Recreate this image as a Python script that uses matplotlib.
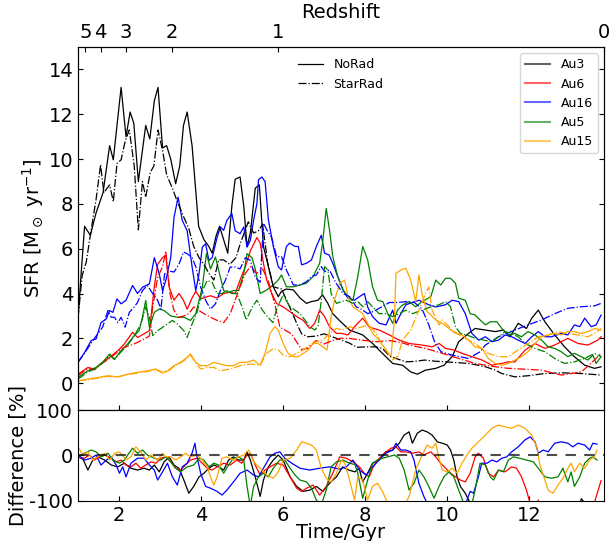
import numpy as np
import matplotlib.pyplot as plt
from matplotlib.lines import Line2D

plt.rcParams['axes.unicode_minus'] = False

# ---- SFR, NoRad (solid) and StarRad (dash-dot) ----
au3_norad_t = [1.0, 1.08, 1.16, 1.3, 1.44, 1.61, 1.77, 1.86, 2.05, 2.17, 2.27, 2.36, 2.47, 2.65, 2.75, 2.86, 2.95, 3.06, 3.16, 3.26, 3.38, 3.48, 3.57, 3.66, 3.78, 3.94, 4.07, 4.19, 4.27, 4.37, 4.45, 4.55, 4.65, 4.75, 4.83, 4.95, 5.04, 5.12, 5.2, 5.32, 5.42, 5.52, 5.64, 5.76, 5.88, 5.96, 6.08, 6.25, 6.41, 6.57, 6.69, 6.85, 6.96, 7.09, 7.21, 7.37, 7.62, 7.94, 8.18, 8.42, 8.67, 8.91, 9.11, 9.27, 9.47, 9.72, 9.92, 10.12, 10.28, 10.52, 10.68, 10.93, 11.17, 11.37, 11.53, 11.73, 11.93, 12.06, 12.22, 12.38, 12.62, 12.86, 13.1, 13.35, 13.59, 13.75]
au3_norad = [2.9, 5.0, 7.0, 6.6, 7.6, 8.5, 10.6, 9.97, 13.2, 11.0, 12.1, 11.6, 9.0, 11.5, 10.9, 12.6, 13.2, 10.5, 10.6, 10.0, 8.9, 9.7, 11.5, 12.1, 10.6, 7.0, 6.4, 6.1, 5.8, 6.6, 7.0, 6.4, 5.8, 7.9, 9.1, 9.2, 7.9, 6.1, 6.7, 8.7, 8.85, 6.1, 5.2, 4.3, 3.86, 4.1, 4.2, 4.16, 3.8, 3.56, 3.64, 3.7, 3.94, 3.56, 3.1, 2.8, 2.37, 2.15, 1.77, 1.33, 0.88, 0.8, 0.5, 0.4, 0.58, 0.66, 0.8, 1.18, 1.85, 2.22, 2.44, 2.37, 2.3, 2.37, 2.07, 2.67, 2.44, 2.9, 3.26, 2.74, 2.15, 1.62, 1.18, 0.8, 0.66, 0.73]

au3_star_t = [1.0, 1.1, 1.2, 1.3, 1.36, 1.44, 1.55, 1.63, 1.77, 1.86, 1.95, 2.05, 2.15, 2.25, 2.37, 2.47, 2.57, 2.65, 2.76, 2.85, 2.95, 3.06, 3.16, 3.3, 3.38, 3.49, 3.58, 3.7, 3.82, 3.95, 4.07, 4.19, 4.31, 4.43, 4.55, 4.7, 4.85, 4.95, 5.05, 5.15, 5.28, 5.4, 5.5, 5.62, 5.76, 5.96, 6.16, 6.33, 6.45, 6.6, 6.8, 7.0, 7.15, 7.38, 7.6, 7.8, 8.02, 8.25, 8.42, 8.6, 8.75, 9.0, 9.2, 9.45, 9.7, 9.96, 10.2, 10.52, 10.75, 10.93, 11.15, 11.33, 11.5, 11.65, 11.97, 12.38, 12.78, 13.27, 13.75]
au3_star = [2.9, 4.8, 5.4, 6.6, 7.3, 8.2, 9.75, 8.5, 8.85, 8.1, 9.8, 9.97, 10.8, 11.3, 9.7, 6.84, 9.0, 8.3, 9.4, 9.7, 11.3, 10.4, 9.3, 8.7, 8.3, 7.8, 7.4, 6.9, 6.1, 5.6, 5.3, 4.9, 4.6, 5.5, 5.5, 5.3, 5.6, 6.2, 6.7, 7.2, 6.7, 6.8, 7.1, 5.4, 4.3, 4.2, 3.4, 2.67, 2.2, 2.07, 2.1, 2.2, 2.1, 1.95, 1.8, 1.6, 1.62, 1.62, 1.55, 1.2, 1.1, 0.95, 0.97, 1.03, 0.98, 0.95, 0.92, 0.88, 0.8, 0.73, 0.6, 0.43, 0.35, 0.28, 0.33, 0.43, 0.46, 0.43, 0.36]

au6_norad_t = [1.0, 1.24, 1.4, 1.6, 1.77, 1.97, 2.13, 2.33, 2.45, 2.61, 2.74, 2.86, 2.94, 3.06, 3.14, 3.22, 3.34, 3.46, 3.57, 3.66, 3.78, 3.87, 3.99, 4.11, 4.23, 4.39, 4.55, 4.71, 4.83, 4.95, 5.08, 5.2, 5.36, 5.44, 5.52, 5.6, 5.72, 5.84, 6.0, 6.16, 6.33, 6.49, 6.65, 6.77, 6.89, 7.01, 7.13, 7.3, 7.42, 7.58, 7.78, 7.94, 8.1, 8.34, 8.59, 8.83, 9.07, 9.39, 9.63, 9.8, 9.96, 10.16, 10.36, 10.6, 10.85, 11.09, 11.33, 11.49, 11.65, 11.9, 12.14, 12.38, 12.62, 12.78, 12.94, 13.19, 13.43, 13.67, 13.75]
au6_norad = [0.4, 0.7, 0.63, 0.93, 1.15, 1.45, 1.75, 2.27, 2.04, 2.2, 2.34, 4.3, 5.3, 5.6, 5.7, 4.3, 3.7, 4.0, 3.7, 3.3, 3.8, 4.1, 3.76, 3.84, 3.9, 3.8, 4.0, 4.06, 4.0, 4.6, 5.2, 5.9, 6.5, 6.25, 5.35, 4.6, 4.0, 3.56, 3.4, 3.2, 2.97, 2.8, 2.44, 2.67, 3.26, 2.97, 2.52, 2.22, 2.22, 2.15, 2.6, 2.9, 2.5, 2.37, 2.15, 1.92, 1.77, 1.7, 1.62, 1.77, 1.55, 1.48, 1.33, 1.18, 1.03, 0.8, 0.88, 0.95, 0.95, 1.48, 1.77, 1.55, 1.7, 1.85, 2.0, 1.77, 1.7, 1.92, 2.07]

au6_star_t = [1.0, 1.24, 1.4, 1.6, 1.77, 1.97, 2.13, 2.37, 2.61, 2.74, 2.82, 2.94, 3.06, 3.14, 3.24, 3.34, 3.46, 3.58, 3.7, 3.82, 3.95, 4.07, 4.23, 4.39, 4.55, 4.71, 4.83, 4.95, 5.08, 5.2, 5.36, 5.5, 5.65, 5.8, 5.92, 6.2, 6.45, 6.6, 6.8, 7.0, 7.2, 7.4, 7.6, 7.8, 8.0, 8.3, 8.6, 8.9, 9.07, 9.47, 9.88, 10.28, 10.68, 11.09, 11.49, 11.9, 12.3, 12.78, 13.27, 13.59, 13.75]
au6_star = [0.33, 0.65, 0.6, 0.9, 1.1, 1.4, 1.6, 1.75, 1.97, 2.1, 3.4, 4.7, 5.2, 5.9, 4.0, 3.24, 2.94, 3.0, 3.1, 3.4, 3.24, 3.1, 2.94, 2.8, 2.7, 3.1, 3.7, 4.3, 4.9, 5.2, 4.9, 5.1, 4.5, 3.5, 2.5, 2.2, 1.5, 1.55, 1.9, 1.75, 1.9, 2.0, 2.0, 1.95, 1.9, 1.85, 1.9, 1.8, 1.7, 1.55, 1.33, 1.1, 0.88, 0.75, 0.66, 0.62, 0.58, 0.36, 0.5, 1.03, 1.33]

au16_norad_t = [1.0, 1.16, 1.32, 1.44, 1.56, 1.69, 1.77, 1.85, 1.95, 2.05, 2.17, 2.33, 2.45, 2.57, 2.74, 2.86, 2.98, 3.06, 3.14, 3.26, 3.34, 3.44, 3.54, 3.66, 3.78, 3.87, 3.95, 4.03, 4.11, 4.19, 4.27, 4.39, 4.47, 4.55, 4.63, 4.75, 4.83, 4.95, 5.04, 5.12, 5.2, 5.28, 5.36, 5.4, 5.48, 5.56, 5.64, 5.76, 5.88, 5.96, 6.08, 6.16, 6.29, 6.37, 6.45, 6.57, 6.69, 6.81, 6.93, 7.01, 7.12, 7.21, 7.33, 7.46, 7.58, 7.74, 7.86, 7.98, 8.06, 8.18, 8.34, 8.51, 8.67, 8.75, 8.87, 8.99, 9.15, 9.31, 9.55, 9.72, 9.96, 10.12, 10.28, 10.44, 10.6, 10.77, 10.93, 11.09, 11.25, 11.41, 11.57, 11.73, 11.9, 12.06, 12.22, 12.38, 12.54, 12.78, 12.94, 13.1, 13.23, 13.35, 13.51, 13.63, 13.75]
au16_norad = [0.93, 1.37, 1.9, 1.97, 2.7, 2.87, 3.24, 3.16, 3.76, 3.54, 3.7, 4.36, 4.0, 4.28, 4.43, 5.6, 4.88, 4.13, 4.58, 5.6, 7.4, 8.3, 7.27, 6.8, 5.2, 4.13, 4.88, 6.07, 6.22, 5.48, 5.6, 6.5, 6.97, 6.82, 7.27, 7.57, 6.8, 6.67, 6.97, 6.07, 6.37, 7.27, 8.0, 9.08, 9.2, 9.0, 7.3, 6.1, 5.2, 5.05, 6.1, 6.25, 6.1, 6.1, 5.28, 5.35, 5.5, 6.1, 6.6, 5.8, 5.72, 5.35, 4.76, 4.16, 3.79, 3.7, 3.86, 4.0, 3.4, 2.97, 2.67, 2.6, 3.26, 2.67, 3.1, 3.5, 3.6, 3.7, 3.5, 3.4, 3.5, 3.7, 3.64, 3.1, 2.22, 1.92, 2.07, 1.85, 1.92, 2.15, 2.07, 1.92, 1.77, 2.07, 2.3, 2.07, 2.07, 2.22, 2.15, 2.6, 2.52, 2.9, 2.52, 2.6, 3.04]

au16_star_t = [1.0, 1.2, 1.36, 1.48, 1.6, 1.73, 1.81, 1.89, 1.97, 2.05, 2.15, 2.25, 2.37, 2.45, 2.57, 2.69, 2.82, 2.94, 3.02, 3.11, 3.22, 3.34, 3.46, 3.57, 3.66, 3.78, 3.87, 3.99, 4.11, 4.23, 4.35, 4.47, 4.59, 4.71, 4.83, 4.95, 5.08, 5.2, 5.32, 5.44, 5.52, 5.6, 5.72, 5.84, 5.96, 6.08, 6.25, 6.41, 6.57, 6.69, 6.81, 6.93, 7.01, 7.13, 7.29, 7.46, 7.62, 7.78, 7.94, 8.06, 8.2, 8.4, 8.59, 8.8, 8.99, 9.2, 9.39, 9.55, 9.7, 9.85, 10.12, 10.52, 10.8, 10.93, 11.25, 11.65, 11.97, 12.3, 12.62, 12.94, 13.27, 13.59, 13.75]
au16_star = [0.93, 1.45, 1.9, 2.2, 2.5, 3.24, 2.94, 2.94, 2.7, 2.94, 2.5, 3.16, 3.4, 3.6, 4.13, 4.36, 4.0, 3.7, 3.3, 4.88, 5.0, 4.96, 5.3, 5.85, 5.78, 5.6, 5.2, 4.28, 3.7, 3.3, 3.54, 4.13, 4.58, 5.18, 5.18, 5.1, 5.6, 5.48, 4.73, 4.5, 7.14, 6.84, 6.5, 5.65, 5.65, 5.05, 4.38, 4.38, 4.53, 4.76, 4.83, 5.2, 4.98, 5.05, 4.46, 4.0, 3.86, 3.41, 3.26, 3.1, 3.2, 3.4, 3.6, 3.6, 3.64, 3.6, 3.3, 2.6, 1.8, 1.4, 1.25, 1.1, 1.4, 1.7, 2.07, 2.37, 2.6, 2.82, 3.1, 3.34, 3.41, 3.45, 3.56]

au5_norad_t = [1.0, 1.24, 1.44, 1.6, 1.77, 1.89, 2.05, 2.21, 2.37, 2.49, 2.57, 2.65, 2.74, 2.86, 2.98, 3.1, 3.26, 3.42, 3.58, 3.74, 3.87, 3.95, 4.03, 4.13, 4.23, 4.35, 4.45, 4.55, 4.67, 4.79, 4.91, 5.04, 5.12, 5.24, 5.32, 5.44, 5.6, 5.76, 5.88, 5.96, 6.08, 6.25, 6.41, 6.57, 6.73, 6.89, 6.97, 7.05, 7.13, 7.21, 7.33, 7.46, 7.58, 7.7, 7.82, 7.94, 8.06, 8.18, 8.3, 8.43, 8.55, 8.67, 8.79, 8.91, 9.07, 9.23, 9.39, 9.6, 9.72, 9.84, 9.96, 10.08, 10.2, 10.28, 10.44, 10.56, 10.68, 10.8, 10.93, 11.05, 11.21, 11.33, 11.49, 11.65, 11.81, 11.97, 12.14, 12.3, 12.46, 12.62, 12.78, 12.94, 13.1, 13.27, 13.43, 13.55, 13.63, 13.75]
au5_norad = [0.25, 0.55, 0.7, 0.93, 1.3, 1.07, 1.45, 1.75, 2.12, 2.34, 2.94, 3.69, 2.49, 3.16, 3.31, 3.24, 3.0, 2.94, 2.94, 2.8, 3.1, 3.69, 4.28, 5.78, 5.1, 5.63, 4.88, 4.13, 4.06, 4.13, 4.13, 4.88, 5.78, 5.6, 5.1, 4.0, 4.16, 4.38, 4.6, 4.83, 4.3, 4.3, 4.38, 4.46, 4.76, 5.35, 6.4, 7.8, 6.84, 5.65, 4.76, 4.16, 3.86, 3.7, 4.76, 6.1, 5.5, 4.3, 3.7, 3.64, 3.1, 2.67, 3.26, 3.49, 3.64, 3.41, 3.64, 3.86, 4.6, 4.38, 4.68, 4.68, 4.46, 3.79, 3.7, 3.1, 3.04, 2.82, 2.6, 2.74, 2.74, 2.44, 2.15, 2.22, 2.07, 2.3, 2.15, 1.92, 1.62, 1.55, 1.4, 1.18, 1.33, 1.18, 1.03, 1.25, 0.88, 1.18]

au5_star_t = [1.0, 1.24, 1.44, 1.6, 1.77, 1.89, 2.05, 2.21, 2.37, 2.53, 2.65, 2.74, 2.82, 2.94, 3.06, 3.18, 3.3, 3.42, 3.58, 3.66, 3.78, 3.9, 4.03, 4.15, 4.27, 4.39, 4.51, 4.63, 4.75, 4.87, 5.0, 5.1, 5.25, 5.36, 5.48, 5.6, 5.75, 5.84, 6.0, 6.16, 6.29, 6.41, 6.53, 6.65, 6.77, 6.85, 6.93, 7.01, 7.09, 7.17, 7.3, 7.42, 7.54, 7.7, 7.82, 7.94, 8.06, 8.18, 8.34, 8.51, 8.67, 8.83, 8.99, 9.15, 9.39, 9.6, 9.8, 9.96, 10.08, 10.2, 10.32, 10.48, 10.68, 10.89, 11.09, 11.25, 11.41, 11.57, 11.73, 11.9, 12.14, 12.38, 12.62, 12.86, 13.1, 13.35, 13.59, 13.75]
au5_star = [0.18, 0.5, 0.65, 0.9, 1.25, 1.05, 1.4, 1.7, 2.1, 2.64, 3.4, 2.94, 2.12, 2.34, 2.49, 2.64, 2.8, 2.64, 2.34, 2.04, 2.64, 3.16, 4.13, 4.58, 4.5, 4.0, 4.0, 4.13, 4.0, 4.0, 3.4, 2.82, 3.4, 3.7, 3.3, 3.0, 2.7, 3.3, 3.94, 3.41, 3.26, 3.1, 2.82, 2.52, 2.37, 2.52, 3.7, 5.2, 5.05, 4.0, 3.56, 3.64, 3.7, 3.56, 3.64, 3.41, 3.64, 3.41, 3.1, 3.1, 2.97, 3.1, 3.26, 3.1, 3.26, 3.4, 3.5, 3.64, 3.41, 2.52, 2.22, 2.15, 2.0, 1.92, 1.85, 2.07, 2.3, 2.22, 2.07, 1.77, 1.55, 1.4, 1.1, 0.88, 0.95, 1.1, 1.33, 1.18]

au15_norad_t = [1.0, 1.24, 1.48, 1.73, 1.97, 2.21, 2.45, 2.69, 2.9, 3.06, 3.18, 3.34, 3.5, 3.66, 3.74, 3.87, 3.99, 4.15, 4.31, 4.47, 4.63, 4.79, 4.95, 5.12, 5.28, 5.44, 5.56, 5.68, 5.8, 5.88, 6.0, 6.12, 6.25, 6.37, 6.49, 6.61, 6.73, 6.85, 6.97, 7.07, 7.17, 7.25, 7.38, 7.5, 7.58, 7.7, 7.82, 7.94, 8.06, 8.18, 8.34, 8.51, 8.63, 8.71, 8.75, 8.87, 8.99, 9.11, 9.23, 9.31, 9.39, 9.51, 9.6, 9.72, 9.88, 10.04, 10.2, 10.36, 10.52, 10.68, 10.85, 11.0, 11.17, 11.33, 11.49, 11.65, 11.81, 11.97, 12.14, 12.3, 12.46, 12.62, 12.78, 12.94, 13.1, 13.27, 13.43, 13.59, 13.75]
au15_norad = [0.1, 0.18, 0.25, 0.33, 0.28, 0.4, 0.48, 0.55, 0.63, 0.48, 0.55, 0.78, 0.93, 1.15, 1.3, 0.93, 0.78, 0.78, 0.93, 0.85, 0.78, 0.78, 0.93, 0.93, 1.03, 0.8, 1.33, 2.22, 2.52, 2.37, 1.77, 1.33, 1.18, 1.18, 1.33, 1.48, 1.77, 1.77, 1.62, 1.48, 2.97, 3.7, 4.46, 4.6, 3.86, 3.41, 3.26, 3.1, 2.67, 2.22, 1.92, 1.48, 1.18, 2.82, 4.9, 5.05, 5.13, 4.6, 3.64, 4.83, 3.94, 3.19, 3.04, 2.82, 2.67, 2.44, 2.22, 2.15, 1.92, 1.62, 1.55, 1.1, 0.88, 0.8, 0.88, 1.03, 1.18, 1.4, 1.77, 2.07, 2.15, 2.22, 2.15, 2.3, 2.3, 2.22, 2.3, 2.44, 2.37]

au15_star_t = [1.0, 1.24, 1.48, 1.73, 1.97, 2.21, 2.45, 2.69, 2.9, 3.06, 3.18, 3.34, 3.5, 3.66, 3.74, 3.87, 3.99, 4.15, 4.31, 4.47, 4.71, 4.95, 5.2, 5.44, 5.6, 5.76, 5.88, 6.0, 6.16, 6.33, 6.49, 6.65, 6.81, 6.97, 7.13, 7.3, 7.46, 7.62, 7.78, 7.94, 8.1, 8.26, 8.45, 8.67, 8.8, 8.91, 9.11, 9.31, 9.45, 9.55, 9.63, 9.8, 9.88, 10.12, 10.36, 10.68, 11.0, 11.25, 11.49, 11.73, 11.97, 12.22, 12.46, 12.7, 12.94, 13.19, 13.43, 13.59, 13.75]
au15_star = [0.1, 0.15, 0.22, 0.3, 0.28, 0.38, 0.45, 0.52, 0.6, 0.45, 0.5, 0.75, 0.9, 1.1, 1.25, 0.9, 0.63, 0.7, 0.7, 0.55, 0.63, 0.78, 0.85, 0.8, 1.33, 1.55, 1.48, 1.25, 1.18, 1.33, 1.48, 1.7, 1.85, 1.92, 2.22, 2.44, 2.37, 2.52, 2.44, 2.52, 2.6, 2.22, 1.6, 1.03, 1.2, 1.92, 2.37, 3.26, 3.9, 4.3, 3.26, 2.6, 2.82, 2.37, 2.07, 1.77, 1.33, 1.18, 1.18, 1.48, 1.77, 2.07, 2.15, 2.3, 2.22, 2.15, 2.07, 2.22, 2.44]

# ---- Difference [%] ----
diff_au3_t = [1.0, 1.12, 1.24, 1.36, 1.48, 1.65, 1.81, 1.97, 2.13, 2.29, 2.45, 2.61, 2.74, 2.86, 2.98, 3.1, 3.22, 3.34, 3.46, 3.58, 3.7, 3.82, 3.95, 4.07, 4.19, 4.31, 4.43, 4.55, 4.67, 4.79, 4.91, 5.04, 5.12, 5.2, 5.32, 5.44, 5.52, 5.64, 5.76, 5.88, 6.0, 6.17, 6.33, 6.49, 6.65, 6.81, 6.97, 7.13, 7.3, 7.45, 7.6, 7.75, 7.85, 7.94, 8.06, 8.18, 8.34, 8.5, 8.67, 8.83, 8.95, 9.07, 9.15, 9.27, 9.39, 9.51, 9.63, 9.76, 9.88, 10.0, 10.08, 10.16, 10.24, 10.32, 10.44, 10.56, 10.68, 10.8, 11.5, 12.5, 13.1, 13.27, 13.4, 13.65]
diff_au3 = [-3, -8, -32, -10, -3, -10, -21, -25, -17, -28, -32, -28, -32, -21, -36, -14, -3, -21, -28, -54, -83, -68, -47, -39, -28, -21, -25, -32, -10, -3, -10, -10, 8, -10, -47, -90, -54, -25, -10, 1, -10, -47, -68, -79, -76, -68, -79, -61, -47, -25, -32, -36, -28, -58, -39, -17, -10, 8, 12, 27, 45, 52, 27, 49, 56, 52, 45, 30, 27, 23, 12, -10, -47, -68, -83, -105, -120, -140, -150, -150, -140, -95, -110, -130]

diff_au6_t = [1.0, 1.16, 1.28, 1.4, 1.52, 1.65, 1.81, 1.93, 2.05, 2.17, 2.29, 2.41, 2.53, 2.65, 2.78, 2.9, 3.02, 3.14, 3.26, 3.38, 3.5, 3.62, 3.74, 3.9, 4.03, 4.15, 4.27, 4.39, 4.55, 4.71, 4.87, 4.99, 5.12, 5.2, 5.32, 5.44, 5.56, 5.68, 5.84, 6.0, 6.17, 6.33, 6.45, 6.57, 6.73, 6.89, 7.05, 7.21, 7.38, 7.54, 7.7, 7.86, 7.98, 8.1, 8.18, 8.3, 8.47, 8.63, 8.75, 8.87, 8.99, 9.15, 9.31, 9.43, 9.6, 9.72, 9.84, 9.96, 10.08, 10.2, 10.32, 10.44, 10.56, 10.68, 10.76, 10.88, 11.0, 11.13, 11.25, 11.41, 11.57, 11.69, 11.81, 11.93, 12.02, 12.12, 12.22, 12.32, 12.5, 13.0, 13.45, 13.6, 13.75]
diff_au6 = [-3, -6, 1, -10, -3, 1, -6, -14, -10, -21, -25, -17, -28, -21, -14, -17, -6, -3, -14, -28, -32, -21, -10, -6, -17, -28, -32, -25, -17, -21, -10, -17, 1, 5, -21, -43, -32, -25, -17, -21, -47, -72, -79, -72, -65, -87, -68, -39, -3, -6, -14, -25, -39, -47, -28, -10, 5, 16, 19, 8, 8, 5, 8, 1, 8, -3, -17, -28, -39, -47, -54, -58, -39, -3, 5, -6, -39, -47, -32, -36, -25, -28, -47, -76, -105, -150, -98, -150, -150, -150, -150, -100, -55]

diff_au16_t = [1.0, 1.16, 1.32, 1.44, 1.56, 1.69, 1.81, 1.93, 2.01, 2.09, 2.17, 2.29, 2.45, 2.61, 2.74, 2.86, 2.94, 3.06, 3.18, 3.3, 3.42, 3.54, 3.66, 3.78, 3.85, 3.9, 3.99, 4.11, 4.23, 4.39, 4.51, 4.63, 4.79, 4.95, 5.12, 5.28, 5.4, 5.52, 5.68, 5.8, 5.92, 6.04, 6.21, 6.41, 6.65, 6.89, 7.13, 7.38, 7.54, 7.7, 7.86, 8.02, 8.18, 8.34, 8.5, 8.67, 8.75, 8.87, 8.99, 9.11, 9.19, 9.31, 9.43, 9.51, 9.6, 10.0, 10.4, 10.48, 10.56, 10.64, 10.76, 10.84, 10.97, 11.09, 11.21, 11.33, 11.45, 11.57, 11.73, 11.89, 12.02, 12.14, 12.22, 12.34, 12.46, 12.62, 12.78, 12.94, 13.06, 13.19, 13.35, 13.47, 13.55, 13.65]
diff_au16 = [1, -10, -6, 1, -21, -10, -3, -21, -39, -25, -47, -17, -6, -6, -21, -32, -54, -36, -17, -47, -65, -25, -17, 5, 27, -3, -39, -68, -72, -79, -87, -76, -58, -39, -32, -43, -47, -28, -3, 5, 8, -6, -17, -28, -32, -28, -25, -30, -25, -10, -32, -43, -25, -10, 5, 12, 27, 12, 12, 8, -10, -61, -90, -105, -130, -150, -130, -98, -79, -83, -47, -17, -17, -10, -14, -6, -3, 8, 19, 34, 41, 30, 5, 12, 8, 27, 30, 27, 19, 27, 23, 12, 27, 25]

diff_au5_t = [1.0, 1.16, 1.32, 1.44, 1.56, 1.73, 1.85, 2.01, 2.13, 2.21, 2.33, 2.45, 2.57, 2.69, 2.86, 3.02, 3.14, 3.26, 3.38, 3.5, 3.66, 3.82, 3.95, 4.07, 4.19, 4.31, 4.43, 4.55, 4.67, 4.79, 4.91, 5.04, 5.12, 5.2, 5.28, 5.4, 5.52, 5.64, 5.76, 5.92, 6.04, 6.17, 6.29, 6.41, 6.57, 6.69, 6.81, 6.93, 7.05, 7.17, 7.3, 7.46, 7.62, 7.75, 7.82, 7.94, 8.06, 8.18, 8.3, 8.42, 8.55, 8.71, 8.83, 8.95, 9.07, 9.19, 9.31, 9.43, 9.55, 9.68, 9.8, 9.92, 10.04, 10.16, 10.28, 10.4, 10.54, 10.68, 10.8, 10.93, 11.05, 11.13, 11.25, 11.37, 11.49, 11.61, 11.77, 11.93, 12.1, 12.22, 12.38, 12.54, 12.7, 12.82, 12.94, 13.02, 13.1, 13.23, 13.35, 13.47, 13.55, 13.65]
diff_au5 = [-3, 5, 12, 8, -3, 5, -10, -17, -10, 1, 16, 5, 12, 1, -6, -10, -3, -14, -28, -36, -25, -21, -6, -10, -25, -17, -21, -39, -21, -6, -3, -10, -68, -112, -68, -47, -39, -47, -28, -10, -10, -28, -43, -54, -58, -72, -98, -109, -76, -25, -14, -10, -17, -20, -39, -94, -54, -17, -10, -6, -3, 1, -6, -32, -76, -61, -32, -47, -68, -94, -68, -47, -36, -47, -76, -105, -130, -76, -17, -21, -47, -54, -32, -36, -10, -3, -6, -10, -14, -28, -47, -50, -47, -28, -58, -36, -68, -47, -17, -6, -3, -10]

diff_au15_t = [1.0, 1.12, 1.24, 1.36, 1.48, 1.65, 1.77, 1.89, 2.01, 2.17, 2.29, 2.41, 2.53, 2.65, 2.78, 2.94, 3.06, 3.14, 3.26, 3.38, 3.5, 3.62, 3.74, 3.9, 4.03, 4.15, 4.23, 4.31, 4.39, 4.51, 4.63, 4.79, 4.91, 5.04, 5.16, 5.28, 5.44, 5.6, 5.76, 5.88, 6.0, 6.17, 6.33, 6.45, 6.57, 6.69, 6.81, 6.93, 7.05, 7.17, 7.3, 7.42, 7.5, 7.62, 7.74, 7.82, 7.94, 8.06, 8.18, 8.3, 8.42, 8.55, 8.8, 9.07, 9.23, 9.39, 9.51, 9.63, 9.72, 9.8, 9.88, 10.0, 10.12, 10.24, 10.36, 10.48, 10.6, 10.76, 10.93, 11.09, 11.25, 11.41, 11.57, 11.73, 11.89, 12.06, 12.18, 12.26, 12.34, 12.46, 12.58, 12.7, 12.82, 12.94, 13.02, 13.1, 13.23, 13.35, 13.47, 13.59, 13.65]
diff_au15 = [19, 1, 8, -10, -3, 5, -10, 5, 8, -10, -3, 19, 8, -10, 1, -10, 5, -3, -3, -10, -3, 5, -3, 1, -10, -25, -47, -65, -47, -6, -3, -10, -3, 1, 12, -14, -28, -43, -50, -36, -10, -6, 12, 30, 27, 23, 12, -28, -50, -58, -39, -10, -17, -54, -98, -47, -54, -98, -68, -61, -79, -105, -140, -90, -32, 1, 23, 16, 27, -6, -32, -36, -28, -39, -17, 1, 16, 30, 45, 60, 67, 63, 60, 67, 60, 45, 19, -21, -43, -76, -83, -65, -50, -28, -17, -36, -17, -28, -10, -3, 12]

halos = ['Au3', 'Au6', 'Au16', 'Au5', 'Au15']
colors = ['k', 'r', 'b', 'g', 'orange']
redshifts = [5, 4, 3, 2, 1, 0]

norad = [(au3_norad_t, au3_norad), (au6_norad_t, au6_norad), (au16_norad_t, au16_norad),
         (au5_norad_t, au5_norad), (au15_norad_t, au15_norad)]
starrad = [(au3_star_t, au3_star), (au6_star_t, au6_star), (au16_star_t, au16_star),
           (au5_star_t, au5_star), (au15_star_t, au15_star)]
diffs = [(diff_au3_t, diff_au3), (diff_au6_t, diff_au6), (diff_au16_t, diff_au16),
         (diff_au5_t, diff_au5), (diff_au15_t, diff_au15)]


def age(z):
    # age of the universe at redshift z, flat LCDM, Gyr
    H0 = 67.77 / 977.8
    OL, Om = 0.693, 0.307
    return 2.0 / (3.0 * H0 * np.sqrt(OL)) * np.arcsinh(np.sqrt(OL / Om) * (1.0 + z) ** -1.5)


fig = plt.figure(figsize=(6.11, 5.41), dpi=100)
ax1 = fig.add_axes([0.1277, 0.2421, 0.8608, 0.6709])
ax2 = fig.add_axes([0.1277, 0.074, 0.8608, 0.1681], sharex=ax1)

for c, (t, v) in zip(colors, norad):
    ax1.plot(t, v, color=c, lw=0.9, ls='-')
for c, (t, v) in zip(colors, starrad):
    ax1.plot(t, v, color=c, lw=0.9, ls='-.')

xmax = age(0)
ax1.set_xlim(1, xmax)
ax1.set_ylim(-1.2, 15)
ax1.set_yticks(range(0, 15, 2))
ax1.set_ylabel(r'SFR [M$_\odot$ yr$^{-1}$]', fontsize=14, labelpad=2)
ax1.tick_params(axis='both', direction='in', labelsize=14, right=True, top=False)
ax1.tick_params(axis='x', labelbottom=False)

au_handles = [Line2D([], [], color=c, lw=1.5, alpha=0.6) for c in colors]
leg1 = ax1.legend(au_handles, halos, loc='upper right', fontsize=9)
ax1.add_artist(leg1)
style_handles = [Line2D([], [], color='k', lw=0.9, ls='-'), Line2D([], [], color='k', lw=0.9, ls='-.')]
ax1.legend(style_handles, ['NoRad', 'StarRad'], loc='upper center', fontsize=9, frameon=False)

axz = ax1.twiny()
axz.set_xlim(1, xmax)
axz.set_xticks([age(z) for z in redshifts])
axz.set_xticklabels([str(z) for z in redshifts])
axz.tick_params(direction='in', labelsize=14)
axz.set_xlabel('Redshift', fontsize=14)

for c, (t, v) in zip(colors, diffs):
    ax2.plot(t, v, color=c, lw=0.9)
ax2.axhline(0, color='k', ls='--', lw=1.5, alpha=0.7, dashes=(5, 4))
ax2.set_ylim(-100, 100)
ax2.set_yticks([-100, 0, 100])
ax2.set_xticks([2, 4, 6, 8, 10, 12])
ax2.set_xlabel('Time/Gyr', fontsize=14, labelpad=-1)
ax2.set_ylabel('Difference [%]', fontsize=14, labelpad=1)
ax2.tick_params(direction='in', labelsize=14)

fig.savefig('out.png', dpi=100)
